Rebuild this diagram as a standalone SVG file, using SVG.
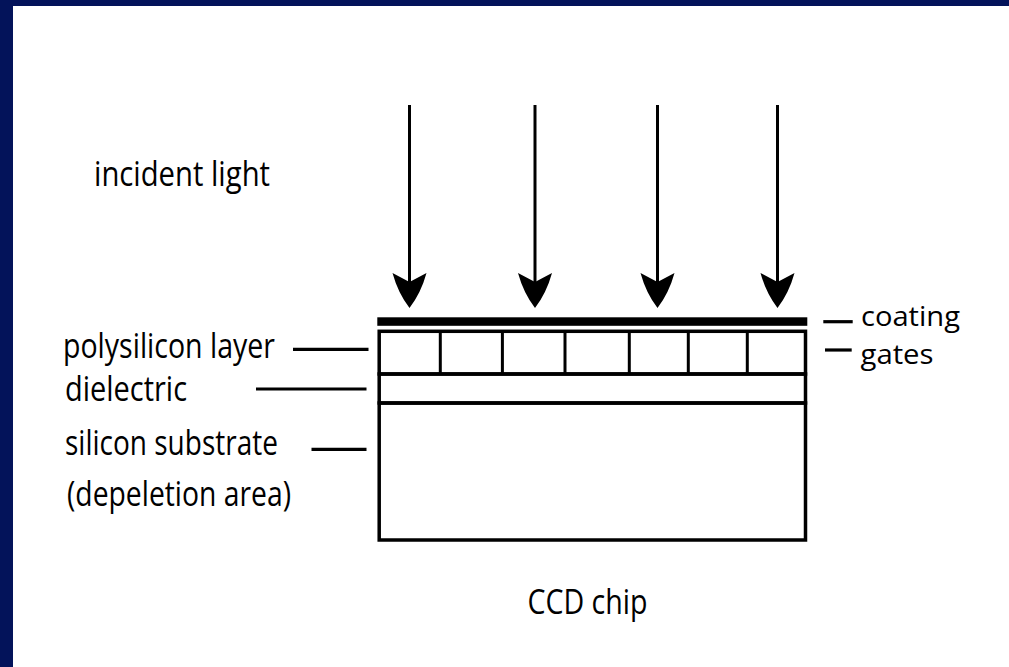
<svg xmlns="http://www.w3.org/2000/svg" width="1009" height="667" viewBox="0 0 1009 667">
<style>
.lbl{font-family:"Open Sans","Noto Sans","Liberation Sans",sans-serif;font-size:35px;fill:#000;}
.sm{font-size:28px;}
.ln{stroke:#000;stroke-width:3.5;fill:none;}
.div{stroke:#000;stroke-width:3;}
.lead{stroke:#000;stroke-width:3.2;}
.ray{stroke:#000;stroke-width:3;}
</style>
<defs>
<marker id="ah" markerUnits="userSpaceOnUse" markerWidth="36" markerHeight="36" viewBox="0 0 36 36" refX="27" refY="17.5" orient="auto">
<path d="M0,0.5 Q20,6 35,17.5 Q20,29 0,34.5 L9,17.5 Z" fill="#000"/>
</marker>
</defs>
<rect x="0" y="0" width="1009" height="667" fill="#fff"/>
<rect x="0" y="0" width="1009" height="6" fill="#03135a"/>
<rect x="0" y="0" width="13" height="667" fill="#03135a"/>

<g id="chip">
<g id="coating"><rect x="377.3" y="317.3" width="430" height="8.5" fill="#000"/></g>
<g id="gates">
<rect class="ln" x="379.2" y="331.3" width="426.3" height="42.7"/>
<line class="div" x1="440.3" y1="331.3" x2="440.3" y2="374"/>
<line class="div" x1="502.4" y1="331.3" x2="502.4" y2="374"/>
<line class="div" x1="565" y1="331.3" x2="565" y2="374"/>
<line class="div" x1="629.3" y1="331.3" x2="629.3" y2="374"/>
<line class="div" x1="688.3" y1="331.3" x2="688.3" y2="374"/>
<line class="div" x1="747.3" y1="331.3" x2="747.3" y2="374"/>
</g>
<g id="dielectric"><rect class="ln" x="379.2" y="374" width="426.3" height="29"/></g>
<g id="substrate"><rect class="ln" x="379.2" y="403" width="426.3" height="137"/></g>
</g>

<g id="connectors">
<line class="ray" x1="409.5" y1="105" x2="409.5" y2="300" marker-end="url(#ah)"/>
<line class="ray" x1="535" y1="105" x2="535" y2="300" marker-end="url(#ah)"/>
<line class="ray" x1="657.5" y1="105" x2="657.5" y2="300" marker-end="url(#ah)"/>
<line class="ray" x1="777.5" y1="105" x2="777.5" y2="300" marker-end="url(#ah)"/>
<line class="lead" x1="293" y1="349.3" x2="368.5" y2="349.3"/>
<line class="lead" x1="256" y1="389" x2="366.5" y2="389"/>
<line class="lead" x1="311.5" y1="449.3" x2="366.5" y2="449.3"/>
<line class="lead" x1="823.3" y1="321.7" x2="852.7" y2="321.7"/>
<line class="lead" x1="825" y1="350" x2="851.7" y2="350"/>
</g>

<g id="label-incident"><text class="lbl" x="94" y="186" textLength="176" lengthAdjust="spacingAndGlyphs">incident light</text></g>
<g id="label-poly"><text class="lbl" x="63" y="358" textLength="212" lengthAdjust="spacingAndGlyphs">polysilicon layer</text></g>
<g id="label-dielectric"><text class="lbl" x="65" y="401" textLength="122" lengthAdjust="spacingAndGlyphs">dielectric</text></g>
<g id="label-substrate"><text class="lbl" x="65" y="454.5" textLength="213" lengthAdjust="spacingAndGlyphs">silicon substrate</text></g>
<g id="label-depletion"><text class="lbl" x="67" y="506" textLength="224" lengthAdjust="spacingAndGlyphs">(depeletion area)</text></g>
<g id="label-coating"><text class="lbl sm" x="861" y="325.5" textLength="99" lengthAdjust="spacingAndGlyphs">coating</text></g>
<g id="label-gates"><text class="lbl sm" x="860.5" y="364" textLength="73" lengthAdjust="spacingAndGlyphs">gates</text></g>
<g id="label-ccd"><text class="lbl" x="527.5" y="614" textLength="120" lengthAdjust="spacingAndGlyphs">CCD chip</text></g>
</svg>
